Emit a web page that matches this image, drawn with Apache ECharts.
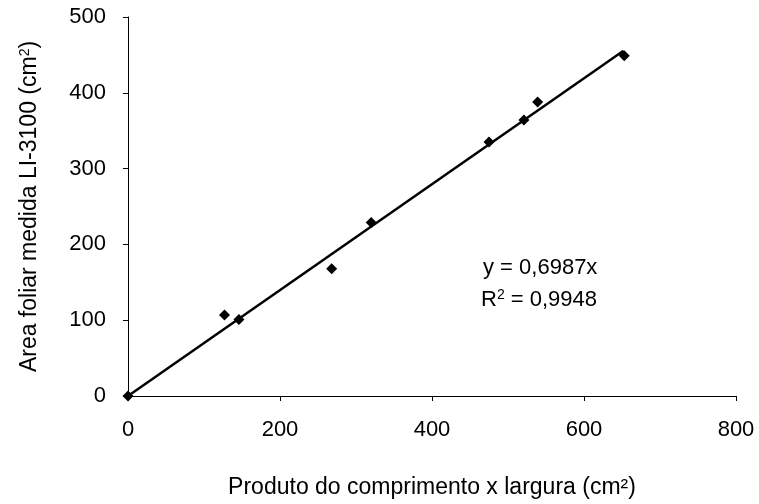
<!DOCTYPE html>
<html>
<head>
<meta charset="utf-8">
<script src="https://cdn.jsdelivr.net/npm/echarts@6/dist/echarts.min.js"></script>
<style>
  html, body { margin: 0; padding: 0; background: #fff; }
  #chart { width: 759px; height: 504px; }
</style>
</head>
<body>
<div id="chart"></div>
<script>
// dados
var xValues = [0, 127, 146, 268, 320, 475, 521, 539, 653];
var yValues = [0, 107, 101, 168, 229, 335, 364, 388, 449];
// reta de regressao y = 0,6987x (extremos)
var lineX = [0, 652];
var lineY = [0, 455.5];
var xTicks = [0, 200, 400, 600, 800];
var yTicks = [0, 100, 200, 300, 400, 500];

var font = '"Liberation Sans", Arial, sans-serif';

var points = [];
for (var i = 0; i < xValues.length; i++) {
    points.push([xValues[i], yValues[i]]);
}
var trend = [];
for (var j = 0; j < lineX.length; j++) {
    trend.push([lineX[j], lineY[j]]);
}

var chart = echarts.init(document.getElementById('chart'), null, {renderer: 'canvas'});

var option = {
    animation: false,
    backgroundColor: '#fff',
    textStyle: {fontFamily: font, color: '#000'},
    grid: {left: 128, right: 23, top: 17, bottom: 104},
    xAxis: {
        type: 'value',
        min: xTicks[0],
        max: xTicks[xTicks.length - 1],
        interval: 200,
        name: 'Produto do comprimento x largura (cm²)',
        nameLocation: 'middle',
        nameGap: 80,
        nameTextStyle: {fontSize: 23, color: '#000', fontFamily: font},
        axisLine: {lineStyle: {color: '#000', width: 1}},
        axisTick: {show: true, length: 5, lineStyle: {color: '#000'}},
        axisLabel: {fontSize: 22, color: '#000', margin: 23, fontFamily: font},
        splitLine: {show: false}
    },
    yAxis: {
        type: 'value',
        min: yTicks[0],
        max: yTicks[yTicks.length - 1],
        interval: 100,
        name: '{a|Area foliar medida LI-3100 (cm}{s|2}{a|)}',
        nameLocation: 'middle',
        nameGap: 86,
        nameTextStyle: {
            color: '#000',
            fontFamily: font,
            rich: {
                a: {fontSize: 23, color: '#000', fontFamily: font, lineHeight: 24},
                s: {fontSize: 14, color: '#000', fontFamily: font, verticalAlign: 'top', lineHeight: 14}
            }
        },
        axisLine: {show: true, lineStyle: {color: '#000', width: 1}},
        axisTick: {show: true, length: 5, lineStyle: {color: '#000'}},
        axisLabel: {fontSize: 22, color: '#000', margin: 22, fontFamily: font},
        splitLine: {show: false}
    },
    series: [
        {
            type: 'line',
            data: trend,
            symbol: 'none',
            lineStyle: {color: '#000', width: 2.5},
            z: 2
        },
        {
            type: 'scatter',
            data: points,
            symbol: 'diamond',
            symbolSize: 11,
            itemStyle: {color: '#000', opacity: 1},
            z: 3
        }
    ],
    graphic: [
        {
            type: 'text',
            left: 483,
            top: 257,
            style: {text: 'y = 0,6987x', font: '22px ' + font, fill: '#000'}
        },
        {
            type: 'text',
            left: 481,
            top: 288,
            style: {
                text: '{a|R}{s|2}{a| = 0,9948}',
                fill: '#000',
                rich: {
                    a: {fontSize: 22, fontFamily: font, fill: '#000', lineHeight: 24},
                    s: {fontSize: 14, fontFamily: font, fill: '#000', verticalAlign: 'top', lineHeight: 14}
                }
            }
        }
    ]
};

chart.setOption(option);
</script>
</body>
</html>
